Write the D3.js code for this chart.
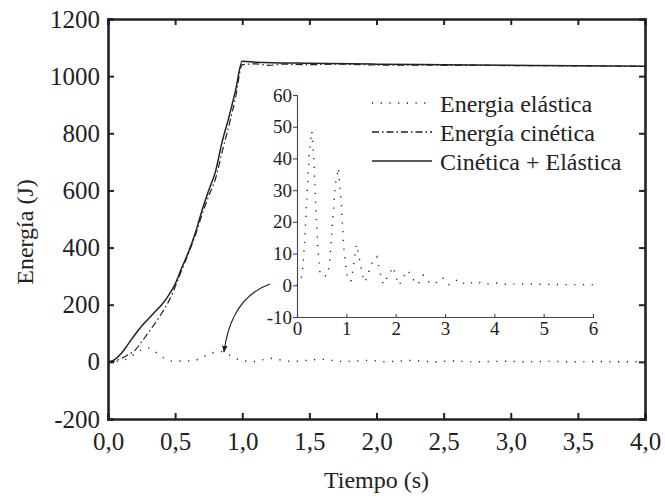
<!DOCTYPE html>
<html>
<head>
<meta charset="utf-8">
<script src="https://cdn.jsdelivr.net/npm/d3@7"></script>
<style>
  body { margin: 0; background: #fff; }
  svg text { font-family: "Liberation Serif", "Times New Roman", serif; fill: #222; }
</style>
</head>
<body>
<div id="chart"></div>
<script>
// tiempo (s) y energias (J)
var tTotal = [0, 0.05, 0.1, 0.15, 0.2, 0.25, 0.3, 0.35, 0.4, 0.45, 0.5, 0.55, 0.6, 0.65, 0.7, 0.75, 0.8, 0.85, 0.9, 0.95, 1.0, 1.1, 1.5, 2.0, 2.5, 3.0, 3.5, 4.0];
var eTotal = [0, 8, 30, 62, 95, 125, 150, 175, 200, 232, 272, 330, 385, 450, 530, 600, 665, 770, 855, 950, 1052, 1049, 1045, 1042, 1040, 1038, 1036, 1035];

var tCinetica = [0, 0.05, 0.1, 0.15, 0.2, 0.25, 0.3, 0.35, 0.4, 0.45, 0.5, 0.55, 0.6, 0.65, 0.7, 0.75, 0.8, 0.85, 0.9, 0.95, 1.0, 1.1, 1.2, 1.3, 1.5, 1.7, 2.0, 2.5, 3.0, 3.5, 4.0];
var eCinetica = [0, 3, 12, 25, 40, 70, 102, 135, 170, 210, 262, 322, 380, 442, 515, 580, 640, 735, 825, 925, 1040, 1043, 1038, 1042, 1040, 1042, 1039, 1038, 1037, 1036, 1035];

var tElastica = [0, 0.05, 0.09, 0.12, 0.16, 0.2, 0.25, 0.3, 0.34, 0.38, 0.42, 0.47, 0.52, 0.6, 0.66, 0.72, 0.78, 0.84, 0.9, 0.95, 1.0, 1.05, 1.1, 1.16, 1.21, 1.27, 1.33, 1.38, 1.45, 1.53, 1.62, 1.7, 1.75, 1.85, 1.95, 2.02, 2.07, 2.15, 2.25, 2.35, 2.45, 2.56, 2.68, 2.78, 2.95, 3.08, 3.27, 3.42, 3.64, 3.79, 4.0, 4.2, 4.5, 5.0, 5.5, 6.0];
var eElastica = [0, 1.5, 2.6, 5.8, 15, 28, 42, 48.6, 40, 25, 12, 3.2, 3, 3, 6.3, 20, 32, 37, 25, 12, 4, 1.3, 1.5, 8, 12.9, 8, 3, 1, 4, 7.5, 9, 3, 0.3, 3, 5.8, 2, 0, 2.5, 4.7, 2, 0.2, 3.2, 1, 0.3, 2.4, 0.2, 1.9, 0.2, 1.3, 0.3, 0.8, 0.3, 0.4, 0.3, 0.2, 0.2];

var xTicks = [0, 0.5, 1, 1.5, 2, 2.5, 3, 3.5, 4];
var yTicks = [-200, 0, 200, 400, 600, 800, 1000, 1200];
var insetXTicks = [0, 1, 2, 3, 4, 5, 6];
var insetYTicks = [-10, 0, 10, 20, 30, 40, 50, 60];

var legendLabels = ["Energia elástica", "Energía cinética", "Cinética + Elástica"];

var width = 665, height = 499;
var margin = {top: 19, right: 20, bottom: 80, left: 108};

var svg = d3.select("#chart")
  .append("svg")
    .attr("width", width)
    .attr("height", height);

var x = d3.scaleLinear().domain([0, 4]).range([margin.left, width - margin.right]);
var y = d3.scaleLinear().domain([-200, 1200]).range([height - margin.bottom, margin.top]);

var comma = function(d) { return d3.format(".1f")(d).replace(".", ","); };
var plain = function(d) { return String(d); };   // guion normal en los negativos

// ejes principales (marco con marcas hacia dentro)
svg.append("g")
    .attr("transform", "translate(0," + y(-200) + ")")
    .call(d3.axisBottom(x).tickValues(xTicks).tickSize(-6).tickPadding(13).tickFormat(comma));
svg.append("g")
    .attr("transform", "translate(0," + y(1200) + ")")
    .call(d3.axisTop(x).tickValues(xTicks).tickSize(-6).tickFormat(""));
svg.append("g")
    .attr("transform", "translate(" + x(0) + ",0)")
    .call(d3.axisLeft(y).tickValues(yTicks).tickSize(-6).tickPadding(8).tickFormat(plain));
svg.append("g")
    .attr("transform", "translate(" + x(4) + ",0)")
    .call(d3.axisRight(y).tickValues(yTicks).tickSize(-6).tickFormat(""));

svg.selectAll(".domain").attr("stroke", "#222").attr("stroke-width", 2.6);
svg.selectAll(".tick line").attr("stroke", "#222").attr("stroke-width", 2);
svg.selectAll(".tick text").attr("font-size", 25).attr("fill", "#222");

svg.append("text")
    .attr("x", x(2))
    .attr("y", 488)
    .attr("text-anchor", "middle")
    .attr("font-size", 24)
    .text("Tiempo (s)");

svg.append("text")
    .attr("transform", "translate(33," + 232 + ") rotate(-90)")
    .attr("text-anchor", "middle")
    .attr("font-size", 24)
    .text("Energía (J)");

var zip = function(ts, vs) { return ts.map(function(t, i) { return [t, vs[i]]; }); };

var lineMain = d3.line()
    .x(function(d) { return x(d[0]); })
    .y(function(d) { return y(d[1]); });

svg.append("path")
    .datum(zip(tElastica, eElastica).filter(function(d) { return d[0] <= 4; }))
    .attr("fill", "none")
    .attr("stroke", "#222")
    .attr("stroke-width", 1.4)
    .attr("stroke-dasharray", "1.2,7.5")
    .attr("d", lineMain);

svg.append("path")
    .datum(zip(tCinetica, eCinetica))
    .attr("fill", "none")
    .attr("stroke", "#222")
    .attr("stroke-width", 1.2)
    .attr("stroke-dasharray", "7,3,1.5,3")
    .attr("d", lineMain.curve(d3.curveMonotoneX));

svg.append("path")
    .datum(zip(tTotal, eTotal))
    .attr("fill", "none")
    .attr("stroke", "#222")
    .attr("stroke-width", 1.5)
    .attr("d", lineMain.curve(d3.curveMonotoneX));

// grafico insertado
var xi = d3.scaleLinear().domain([0, 6]).range([297, 593]);
var yi = d3.scaleLinear().domain([-10, 60]).range([317, 95]);

var gx = svg.append("g")
    .attr("transform", "translate(0," + yi(-10) + ")")
    .call(d3.axisBottom(xi).tickValues(insetXTicks).tickSize(-3).tickPadding(5).tickFormat(plain));
var gy = svg.append("g")
    .attr("transform", "translate(" + xi(0) + ",0)")
    .call(d3.axisLeft(yi).tickValues(insetYTicks).tickSize(4).tickPadding(1).tickFormat(plain));
[gx, gy].forEach(function(g) {
  g.select(".domain").attr("stroke", "#444").attr("stroke-width", 1.1);
  g.selectAll(".tick line").attr("stroke", "#444").attr("stroke-width", 1.1);
  g.selectAll(".tick text").attr("font-size", 19).attr("fill", "#222");
});

svg.append("path")
    .datum(zip(tElastica, eElastica))
    .attr("fill", "none")
    .attr("stroke", "#222")
    .attr("stroke-width", 1.4)
    .attr("stroke-dasharray", "1.2,7.5")
    .attr("d", d3.line()
      .x(function(d) { return xi(d[0]); })
      .y(function(d) { return yi(d[1]); }));

// flecha
svg.append("defs").append("marker")
    .attr("id", "arrow")
    .attr("viewBox", "0 0 10 10")
    .attr("refX", 9).attr("refY", 5)
    .attr("markerWidth", 7).attr("markerHeight", 7)
    .attr("markerUnits", "userSpaceOnUse")
    .attr("orient", "auto")
  .append("path")
    .attr("d", "M0,1 L10,5 L0,9 Z")
    .attr("fill", "#222");

svg.append("path")
    .attr("d", "M270,284 Q231,298 224,352")
    .attr("fill", "none")
    .attr("stroke", "#222")
    .attr("stroke-width", 1.1)
    .attr("marker-end", "url(#arrow)");

// leyenda
var dashes = ["1.2,7.5", "7,3,1.5,3", null];
var legend = svg.append("g");
legendLabels.forEach(function(label, i) {
  var yy = 103 + i * 29;
  legend.append("line")
      .attr("x1", 372).attr("x2", 432)
      .attr("y1", yy).attr("y2", yy)
      .attr("stroke", "#222")
      .attr("stroke-width", i === 0 ? 1.4 : 1.5)
      .attr("stroke-dasharray", dashes[i]);
  legend.append("text")
      .attr("x", 440)
      .attr("y", yy + 9)
      .attr("font-size", 24)
      .text(label);
});
</script>
</body>
</html>
